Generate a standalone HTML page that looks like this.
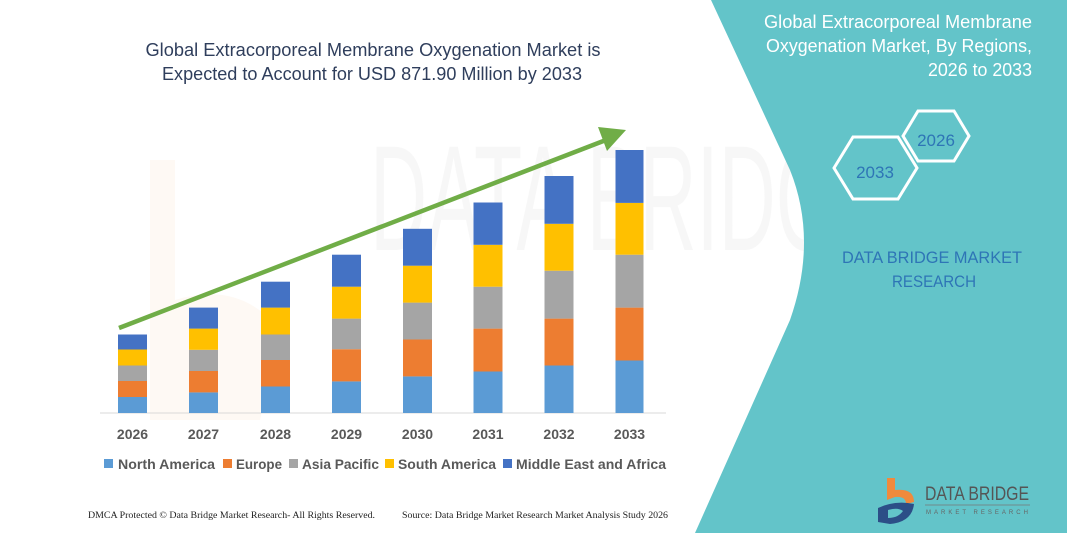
<!DOCTYPE html>
<html><head><meta charset="utf-8"><style>
html,body{margin:0;padding:0;background:#fff;}
svg{display:block;}
text{font-family:"Liberation Sans",sans-serif;}
</style></head><body>
<svg width="1067" height="533" viewBox="0 0 1067 533" xmlns="http://www.w3.org/2000/svg">
<rect width="1067" height="533" fill="#fff"/>
<!-- faint watermark -->
<g opacity="0.06" fill="#888">
<text x="370" y="250" font-size="150" textLength="520" lengthAdjust="spacingAndGlyphs">DATA BRIDGE</text>
</g>
<path d="M150,160 L175,160 L175,300 Q240,280 280,330 L260,420 L150,420 Z" fill="#f7a56a" opacity="0.07"/>
<!-- teal panel -->
<path d="M711,0 L1067,0 L1067,533 L695,533 L790,320 Q818,240 790,170 Z" fill="#63c4c9"/>
<!-- right title -->
<g fill="#fff" font-size="18" text-anchor="end">
<text x="1032" y="28" textLength="268" lengthAdjust="spacingAndGlyphs">Global Extracorporeal Membrane</text>
<text x="1032" y="52" textLength="266" lengthAdjust="spacingAndGlyphs">Oxygenation Market, By Regions,</text>
<text x="1032" y="76" textLength="104" lengthAdjust="spacingAndGlyphs">2026 to 2033</text>
</g>
<!-- hexagons -->
<polygon points="903,136 918,111 954,111 969,136 954,161 918,161" fill="none" stroke="#fff" stroke-width="3"/>
<text x="936" y="146" font-size="17" fill="#2e75b6" text-anchor="middle">2026</text>
<polygon points="834,168 853,137 898,137 917,168 898,199 853,199" fill="none" stroke="#fff" stroke-width="3"/>
<text x="875" y="178" font-size="17" fill="#2e75b6" text-anchor="middle">2033</text>
<g fill="#2e75b6" font-size="17" text-anchor="middle">
<text x="932" y="263" textLength="180" lengthAdjust="spacingAndGlyphs">DATA BRIDGE MARKET</text>
<text x="934" y="287" textLength="84" lengthAdjust="spacingAndGlyphs">RESEARCH</text>
</g>
<!-- logo -->
<path d="M887,478 L895,478 L895,490 Q914,488 914,502 L906,504 Q906,496 895,497 L887,500 Z" fill="#f08a3c"/>
<path d="M878,508 Q895,500 914,504 Q912,522 890,524 L878,522 Z" fill="#2c4e87"/>
<path d="M888,510 Q898,507 903,511 Q898,518 888,518 Z" fill="#63c4c9"/>
<text x="925" y="500" font-size="19" fill="#555" textLength="104" lengthAdjust="spacingAndGlyphs">DATA BRIDGE</text>
<line x1="925" y1="505" x2="1030" y2="505" stroke="#777" stroke-width="0.8"/>
<text x="926" y="514" font-size="6" fill="#666" letter-spacing="3" font-family="Liberation Serif">MARKET RESEARCH</text>
<!-- chart title -->
<g fill="#2f3e5c" font-size="18" text-anchor="middle">
<text x="373" y="56" textLength="455" lengthAdjust="spacingAndGlyphs">Global Extracorporeal Membrane Oxygenation Market is</text>
<text x="372" y="80" textLength="420" lengthAdjust="spacingAndGlyphs">Expected to Account for USD 871.90 Million by 2033</text>
</g>
<!-- baseline -->
<line x1="100" y1="413" x2="666" y2="413" stroke="#d9d9d9" stroke-width="1"/>
<!-- bars -->
<g>
<!-- 2026 -->
<rect x="118" y="397" width="29" height="16" fill="#5b9bd5"/><rect x="118" y="381" width="29" height="16" fill="#ed7d31"/><rect x="118" y="365.5" width="29" height="15.5" fill="#a5a5a5"/><rect x="118" y="349.5" width="29" height="16" fill="#ffc000"/><rect x="118" y="334.5" width="29" height="15" fill="#4472c4"/>
<!-- 2027 -->
<rect x="189" y="392.4" width="29" height="20.6" fill="#5b9bd5"/><rect x="189" y="371" width="29" height="21.4" fill="#ed7d31"/><rect x="189" y="349.8" width="29" height="21.2" fill="#a5a5a5"/><rect x="189" y="328.6" width="29" height="21.2" fill="#ffc000"/><rect x="189" y="307.6" width="29" height="21" fill="#4472c4"/>
<!-- 2028 -->
<rect x="261" y="386.5" width="29" height="26.5" fill="#5b9bd5"/><rect x="261" y="360" width="29" height="26.5" fill="#ed7d31"/><rect x="261" y="334.5" width="29" height="25.5" fill="#a5a5a5"/><rect x="261" y="307.6" width="29" height="26.9" fill="#ffc000"/><rect x="261" y="281.7" width="29" height="25.9" fill="#4472c4"/>
<!-- 2029 -->
<rect x="332" y="381.4" width="29" height="31.6" fill="#5b9bd5"/><rect x="332" y="349.2" width="29" height="32.2" fill="#ed7d31"/><rect x="332" y="318.6" width="29" height="30.6" fill="#a5a5a5"/><rect x="332" y="286.7" width="29" height="31.9" fill="#ffc000"/><rect x="332" y="254.7" width="29" height="32" fill="#4472c4"/>
<!-- 2030 -->
<rect x="403" y="376.4" width="29" height="36.6" fill="#5b9bd5"/><rect x="403" y="339.5" width="29" height="36.9" fill="#ed7d31"/><rect x="403" y="302.6" width="29" height="36.9" fill="#a5a5a5"/><rect x="403" y="265.7" width="29" height="36.9" fill="#ffc000"/><rect x="403" y="228.8" width="29" height="36.9" fill="#4472c4"/>
<!-- 2031 -->
<rect x="473.5" y="371.5" width="29" height="41.5" fill="#5b9bd5"/><rect x="473.5" y="328.6" width="29" height="42.9" fill="#ed7d31"/><rect x="473.5" y="286.7" width="29" height="41.9" fill="#a5a5a5"/><rect x="473.5" y="244.8" width="29" height="41.9" fill="#ffc000"/><rect x="473.5" y="202.5" width="29" height="42.3" fill="#4472c4"/>
<!-- 2032 -->
<rect x="544.5" y="365.5" width="29" height="47.5" fill="#5b9bd5"/><rect x="544.5" y="318.6" width="29" height="46.9" fill="#ed7d31"/><rect x="544.5" y="270.7" width="29" height="47.9" fill="#a5a5a5"/><rect x="544.5" y="223.8" width="29" height="46.9" fill="#ffc000"/><rect x="544.5" y="176" width="29" height="47.8" fill="#4472c4"/>
<!-- 2033 -->
<rect x="615.5" y="360.5" width="28" height="52.5" fill="#5b9bd5"/><rect x="615.5" y="307.6" width="28" height="52.9" fill="#ed7d31"/><rect x="615.5" y="254.7" width="28" height="52.9" fill="#a5a5a5"/><rect x="615.5" y="202.9" width="28" height="51.8" fill="#ffc000"/><rect x="615.5" y="150" width="28" height="52.9" fill="#4472c4"/>
</g>
<!-- arrow -->
<line x1="119" y1="328" x2="606" y2="140" stroke="#70ad47" stroke-width="4.5"/>
<polygon points="626,130 598,127 607,151" fill="#70ad47"/>
<!-- year labels -->
<g fill="#595959" font-size="14" font-weight="bold" text-anchor="middle">
<text x="132.5" y="439">2026</text><text x="203.5" y="439">2027</text><text x="275.5" y="439">2028</text><text x="346.5" y="439">2029</text><text x="417.5" y="439">2030</text><text x="488" y="439">2031</text><text x="559" y="439">2032</text><text x="629.5" y="439">2033</text>
</g>
<!-- legend -->
<g font-size="14" font-weight="bold" fill="#595959">
<rect x="104" y="459" width="9" height="9" fill="#5b9bd5"/><text x="118" y="469" textLength="97" lengthAdjust="spacingAndGlyphs">North America</text>
<rect x="223" y="459" width="9" height="9" fill="#ed7d31"/><text x="236" y="469" textLength="46" lengthAdjust="spacingAndGlyphs">Europe</text>
<rect x="289" y="459" width="9" height="9" fill="#a5a5a5"/><text x="302" y="469" textLength="77" lengthAdjust="spacingAndGlyphs">Asia Pacific</text>
<rect x="385" y="459" width="9" height="9" fill="#ffc000"/><text x="398" y="469" textLength="98" lengthAdjust="spacingAndGlyphs">South America</text>
<rect x="503" y="459" width="9" height="9" fill="#4472c4"/><text x="516" y="469" textLength="150" lengthAdjust="spacingAndGlyphs">Middle East and Africa</text>
</g>
<!-- footer -->
<g font-size="9" fill="#222" font-family="Liberation Serif">
<text x="88" y="518" style="font-family:'Liberation Serif',serif" textLength="287" lengthAdjust="spacingAndGlyphs">DMCA Protected © Data Bridge Market Research-  All Rights Reserved.</text>
<text x="402" y="518" style="font-family:'Liberation Serif',serif" textLength="266" lengthAdjust="spacingAndGlyphs">Source: Data Bridge Market Research  Market Analysis Study 2026</text>
</g>
</svg>
</body></html>
